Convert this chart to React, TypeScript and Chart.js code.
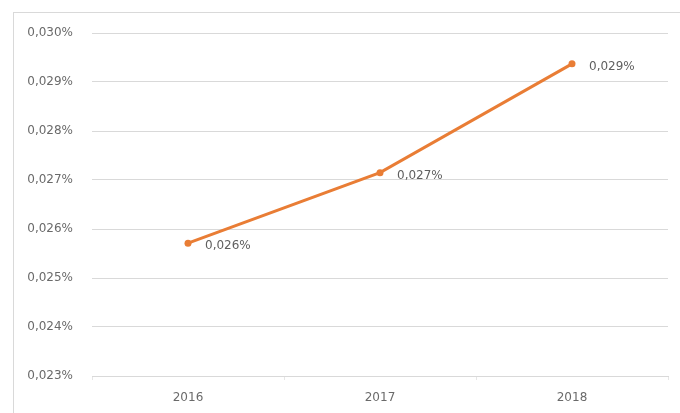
import React, { useEffect, useRef } from "react";
import { Chart, registerables } from "chart.js";

Chart.register(...registerables);

const categories = ["2016", "2017", "2018"];
const values = [0.02571, 0.02715, 0.02937];
const yMin = 0.023;
const yMax = 0.03;
const yStep = 0.001;

const fmt = (v: number) => v.toFixed(3).replace(".", ",") + "%";

const framePlugin = {
  id: "frame",
  beforeDraw(chart: any) {
    const ctx = chart.ctx;
    ctx.save();
    ctx.fillStyle = "#ffffff";
    ctx.fillRect(0, 0, chart.width, chart.height);
    ctx.strokeStyle = "#d9d9d9";
    ctx.lineWidth = 1;
    ctx.strokeRect(13.5, 12.5, chart.width + 10, chart.height + 10);
    ctx.restore();
  },
};

const labelPlugin = {
  id: "dataLabels",
  afterDatasetsDraw(chart: any) {
    const ctx = chart.ctx;
    const meta = chart.getDatasetMeta(0);
    ctx.save();
    ctx.font = "12px 'DejaVu Sans'";
    ctx.fillStyle = "#5f5f5f";
    ctx.textAlign = "left";
    ctx.textBaseline = "middle";
    meta.data.forEach((pt: any, i: number) => {
      ctx.fillText(fmt(values[i]), pt.x + 17, pt.y + 3);
    });
    ctx.restore();
  },
};

export default function App() {
  const ref = useRef<HTMLCanvasElement>(null);
  useEffect(() => {
    document.body.style.margin = "0";
    const chart = new Chart(ref.current!, {
      type: "line",
      data: {
        labels: categories,
        datasets: [
          {
            data: values,
            borderColor: "#E97D35",
            backgroundColor: "#E97D35",
            borderWidth: 3,
            pointRadius: 3.5,
            pointBorderWidth: 0,
            tension: 0,
          },
        ],
      },
      options: {
        animation: false,
        responsive: false,
        layout: { padding: { left: 14, top: 33, right: 12, bottom: 0 } },
        plugins: { legend: { display: false }, tooltip: { enabled: false } },
        scales: {
          x: {
            offset: true,
            grid: {
              offset: true,
              drawOnChartArea: false,
              drawTicks: true,
              tickLength: 4,
              color: "#e6e6e6",
            },
            border: { display: true, color: "#d9d9d9" },
            ticks: {
              padding: 11,
              color: "#6a6a6a",
              font: { family: "'DejaVu Sans'", size: 12 },
            },
            afterFit(scale: any) {
              scale.height = 37;
            },
          },
          y: {
            min: yMin,
            max: yMax,
            grid: { color: "#d9d9d9", drawTicks: false },
            border: { display: false },
            ticks: {
              stepSize: yStep,
              padding: 19,
              color: "#6a6a6a",
              font: { family: "'DejaVu Sans'", size: 12 },
              callback: (v: any) => fmt(Number(v)),
            },
            afterFit(scale: any) {
              scale.width = 78;
            },
          },
        },
      },
      plugins: [framePlugin, labelPlugin],
    });
    return () => chart.destroy();
  }, []);
  return <canvas ref={ref} width={680} height={413} style={{ display: "block" }} />;
}
